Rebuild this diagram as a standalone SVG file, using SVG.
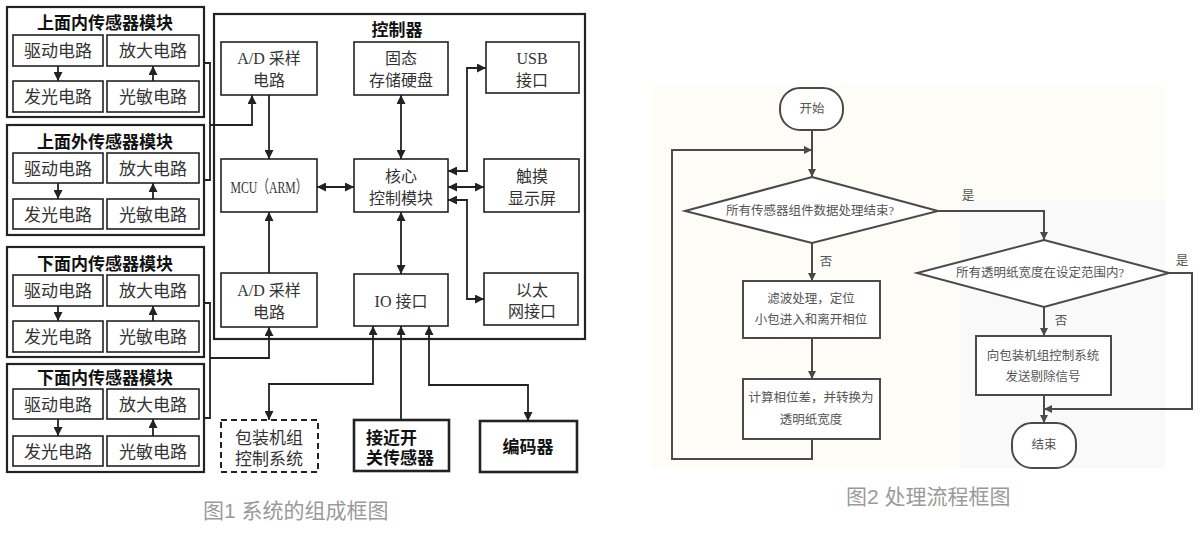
<svg xmlns="http://www.w3.org/2000/svg" width="1200" height="534" viewBox="0 0 1200 534">
<defs>
<marker id="a" viewBox="0 0 10 10" refX="10" refY="5" markerWidth="9" markerHeight="9" markerUnits="userSpaceOnUse" orient="auto-start-reverse"><path d="M0,0 L10,5 L0,10 z" fill="#222"/></marker>
<marker id="f" viewBox="0 0 10 10" refX="10" refY="5" markerWidth="9" markerHeight="8" markerUnits="userSpaceOnUse" orient="auto-start-reverse"><path d="M0,0 L10,5 L0,10 z" fill="#4a4a4a"/></marker>
<style>
.ob{fill:#fff;stroke:#222;stroke-width:2.2}
.ib{fill:#fff;stroke:#222;stroke-width:1.6}
.bb{fill:#fff;stroke:#222;stroke-width:2.6}
.db{fill:#fff;stroke:#222;stroke-width:2;stroke-dasharray:6 4}
.t{font-family:"Liberation Serif","Noto Sans CJK SC",serif;font-size:17px;fill:#333;text-anchor:middle;dominant-baseline:central}
.s{font-family:"Liberation Serif","Noto Sans CJK SC",serif;font-size:16px;fill:#333;text-anchor:middle;dominant-baseline:central}
.m{font-family:"Liberation Serif","Noto Sans CJK SC",serif;font-size:17px;fill:#333;text-anchor:middle;dominant-baseline:central}
.h{font-family:"Liberation Sans","Noto Sans CJK SC",sans-serif;font-size:17px;font-weight:bold;fill:#111;text-anchor:middle;dominant-baseline:central}
.hl{font-family:"Liberation Sans","Noto Sans CJK SC",sans-serif;font-size:17px;font-weight:bold;fill:#111;text-anchor:start;dominant-baseline:central}
.c{fill:none;stroke:#222;stroke-width:1.8}
.fb{fill:#fff;stroke:#4a4a4a;stroke-width:2}
.fc{fill:none;stroke:#4a4a4a;stroke-width:2}
.ft{font-family:"Liberation Serif","Noto Sans CJK SC",serif;font-size:12.5px;fill:#555;text-anchor:middle;dominant-baseline:central}
.cap{font-family:"Liberation Sans","Noto Sans CJK SC",sans-serif;font-size:21px;fill:#9a9a9a;dominant-baseline:central}
</style>
</defs>
<rect width="1200" height="534" fill="#fff"/>
<rect x="652" y="85" width="513" height="383" fill="#fdfcf7"/>
<rect x="960" y="200" width="205" height="268" fill="#f8f9f8"/>

<!-- Sensor modules -->
<g id="m1">
<rect class="ob" x="7" y="7" width="197" height="110"/>
<text class="h" x="105" y="23">上面内传感器模块</text>
<rect class="ib" x="13" y="35" width="90" height="31"/><text class="t" x="58" y="51">驱动电路</text>
<rect class="ib" x="107" y="35" width="92" height="31"/><text class="t" x="153" y="51">放大电路</text>
<rect class="ib" x="13" y="81" width="90" height="31"/><text class="t" x="58" y="97">发光电路</text>
<rect class="ib" x="107" y="81" width="92" height="31"/><text class="t" x="153" y="97">光敏电路</text>
</g>
<g id="m2">
<rect class="ob" x="7" y="125" width="197" height="110"/>
<text class="h" x="105" y="142">上面外传感器模块</text>
<rect class="ib" x="13" y="153" width="90" height="30"/><text class="t" x="58" y="169">驱动电路</text>
<rect class="ib" x="107" y="153" width="92" height="30"/><text class="t" x="153" y="169">放大电路</text>
<rect class="ib" x="13" y="199" width="90" height="30"/><text class="t" x="58" y="215">发光电路</text>
<rect class="ib" x="107" y="199" width="92" height="30"/><text class="t" x="153" y="215">光敏电路</text>
</g>
<g id="m3">
<rect class="ob" x="7" y="247" width="197" height="110"/>
<text class="h" x="105" y="264">下面内传感器模块</text>
<rect class="ib" x="13" y="275" width="90" height="31"/><text class="t" x="58" y="291">驱动电路</text>
<rect class="ib" x="107" y="275" width="92" height="31"/><text class="t" x="153" y="291">放大电路</text>
<rect class="ib" x="13" y="321" width="90" height="31"/><text class="t" x="58" y="337">发光电路</text>
<rect class="ib" x="107" y="321" width="92" height="31"/><text class="t" x="153" y="337">光敏电路</text>
</g>
<g id="m4">
<rect class="ob" x="7" y="364" width="197" height="108"/>
<text class="h" x="105" y="378">下面内传感器模块</text>
<rect class="ib" x="13" y="389" width="90" height="30"/><text class="t" x="58" y="405">驱动电路</text>
<rect class="ib" x="107" y="389" width="92" height="30"/><text class="t" x="153" y="405">放大电路</text>
<rect class="ib" x="13" y="436" width="90" height="30"/><text class="t" x="58" y="452">发光电路</text>
<rect class="ib" x="107" y="436" width="92" height="30"/><text class="t" x="153" y="452">光敏电路</text>
</g>

<!-- Controller -->
<g id="controller">
<rect class="ob" x="214" y="14" width="371" height="325"/>
<text class="h" x="397" y="30">控制器</text>
</g>
<g id="ad1"><rect class="ib" x="221" y="42" width="96" height="53"/><text class="s" x="269" y="58">A/D 采样</text><text class="s" x="269" y="80">电路</text></g>
<g id="ssd"><rect class="ib" x="354" y="42" width="94" height="53"/><text class="s" x="401" y="58">固态</text><text class="s" x="401" y="80">存储硬盘</text></g>
<g id="usb"><rect class="ib" x="486" y="42" width="93" height="51"/><text class="s" x="532" y="58">USB</text><text class="s" x="532" y="80">接口</text></g>
<g id="mcu"><rect class="ib" x="221" y="159" width="96" height="53"/><text class="m" x="269" y="187" textLength="77" lengthAdjust="spacingAndGlyphs">MCU（ARM）</text></g>
<g id="core"><rect class="ib" x="354" y="159" width="94" height="53"/><text class="s" x="401" y="176">核心</text><text class="s" x="401" y="198">控制模块</text></g>
<g id="touch"><rect class="ib" x="484" y="159" width="95" height="53"/><text class="s" x="532" y="176">触摸</text><text class="s" x="532" y="198">显示屏</text></g>
<g id="ad2"><rect class="ib" x="221" y="273" width="96" height="54"/><text class="s" x="269" y="290">A/D 采样</text><text class="s" x="269" y="312">电路</text></g>
<g id="io"><rect class="ib" x="354" y="274" width="94" height="52"/><text class="s" x="401" y="301">IO 接口</text></g>
<g id="eth"><rect class="ib" x="484" y="273" width="94" height="52"/><text class="s" x="532" y="290">以太</text><text class="s" x="532" y="311">网接口</text></g>

<!-- External -->
<g id="pack"><rect class="db" x="221" y="420" width="97" height="52"/><text class="t" x="269" y="438">包装机组</text><text class="t" x="269" y="459">控制系统</text></g>
<g id="prox"><rect class="bb" x="354" y="420" width="95" height="51"/><text class="hl" x="366" y="438">接近开</text><text class="hl" x="366" y="458">关传感器</text></g>
<g id="enc"><rect class="bb" x="480" y="421" width="97" height="51"/><text class="h" x="528" y="447">编码器</text></g>

<g id="connectors1">
<path class="c" d="M58,66 V81" marker-end="url(#a)"/><path class="c" d="M153,81 V66" marker-end="url(#a)"/>
<path class="c" d="M58,183 V199" marker-end="url(#a)"/><path class="c" d="M153,199 V183" marker-end="url(#a)"/>
<path class="c" d="M58,306 V321" marker-end="url(#a)"/><path class="c" d="M153,321 V306" marker-end="url(#a)"/>
<path class="c" d="M58,419 V436" marker-end="url(#a)"/><path class="c" d="M153,436 V419" marker-end="url(#a)"/>
<path class="c" d="M204,63 H210 V180 H204"/>
<path class="c" d="M210,125 H252 V95" marker-end="url(#a)"/>
<path class="c" d="M204,303 H210 V418 H204"/>
<path class="c" d="M210,358 H269 V327" marker-end="url(#a)"/>
<path class="c" d="M269,95 V159" marker-end="url(#a)"/>
<path class="c" d="M269,273 V212" marker-end="url(#a)"/>
<path class="c" d="M401,95 V159" marker-start="url(#a)" marker-end="url(#a)"/>
<path class="c" d="M317,187 H354" marker-start="url(#a)" marker-end="url(#a)"/>
<path class="c" d="M448,171 H467 V68 H486" marker-start="url(#a)" marker-end="url(#a)"/>
<path class="c" d="M448,187 H484" marker-start="url(#a)" marker-end="url(#a)"/>
<path class="c" d="M448,200 H467 V299 H484" marker-start="url(#a)" marker-end="url(#a)"/>
<path class="c" d="M401,212 V274" marker-start="url(#a)" marker-end="url(#a)"/>
<path class="c" d="M373,326 V384 H269 V420" marker-start="url(#a)" marker-end="url(#a)"/>
<path class="c" d="M401,420 V326" marker-end="url(#a)"/>
<path class="c" d="M429,326 V385 H528 V421" marker-start="url(#a)" marker-end="url(#a)"/>
</g>

<!-- Flowchart -->
<g id="start"><rect class="fb" x="780" y="88" width="63" height="42" rx="20"/><text class="ft" x="812" y="109">开始</text></g>
<g id="d1"><path class="fb" d="M812,177 L938,211 L812,243 L685,211 Z"/><text class="ft" x="810" y="211">所有传感器组件数据处理结束?</text></g>
<g id="p1"><rect class="fb" x="743" y="281" width="137" height="57"/><text class="ft" x="811" y="299">滤波处理，定位</text><text class="ft" x="811" y="320">小包进入和离开相位</text></g>
<g id="p2"><rect class="fb" x="743" y="379" width="137" height="60"/><text class="ft" x="811" y="398">计算相位差，并转换为</text><text class="ft" x="811" y="420">透明纸宽度</text></g>
<g id="d2"><path class="fb" d="M1044,240 L1169,273 L1044,307 L917,273 Z"/><text class="ft" x="1040" y="273">所有透明纸宽度在设定范围内?</text></g>
<g id="p3"><rect class="fb" x="976" y="336" width="135" height="59"/><text class="ft" x="1043" y="356">向包装机组控制系统</text><text class="ft" x="1043" y="377">发送剔除信号</text></g>
<g id="end"><rect class="fb" x="1012" y="423" width="64" height="45" rx="20"/><text class="ft" x="1044" y="445">结束</text></g>

<g id="connectors2">
<path class="fc" d="M812,130 V177" marker-end="url(#f)"/>
<path class="fc" d="M812,439 V459 H672 V150 H812" marker-end="url(#f)"/>
<path class="fc" d="M812,243 V281" marker-end="url(#f)"/>
<path class="fc" d="M812,338 V379" marker-end="url(#f)"/>
<path class="fc" d="M938,211 H1044 V240" marker-end="url(#f)"/>
<path class="fc" d="M1044,307 V336" marker-end="url(#f)"/>
<path class="fc" d="M1169,273 H1192 V409 H1044" marker-end="url(#f)"/>
<path class="fc" d="M1044,395 V423" marker-end="url(#f)"/>
<text class="ft" x="968" y="196">是</text>
<text class="ft" x="826" y="262">否</text>
<text class="ft" x="1182" y="261">是</text>
<text class="ft" x="1061" y="321">否</text>
</g>

<text class="cap" x="203" y="510">图1 系统的组成框图</text>
<text class="cap" x="846" y="496">图2 处理流程框图</text>
</svg>
